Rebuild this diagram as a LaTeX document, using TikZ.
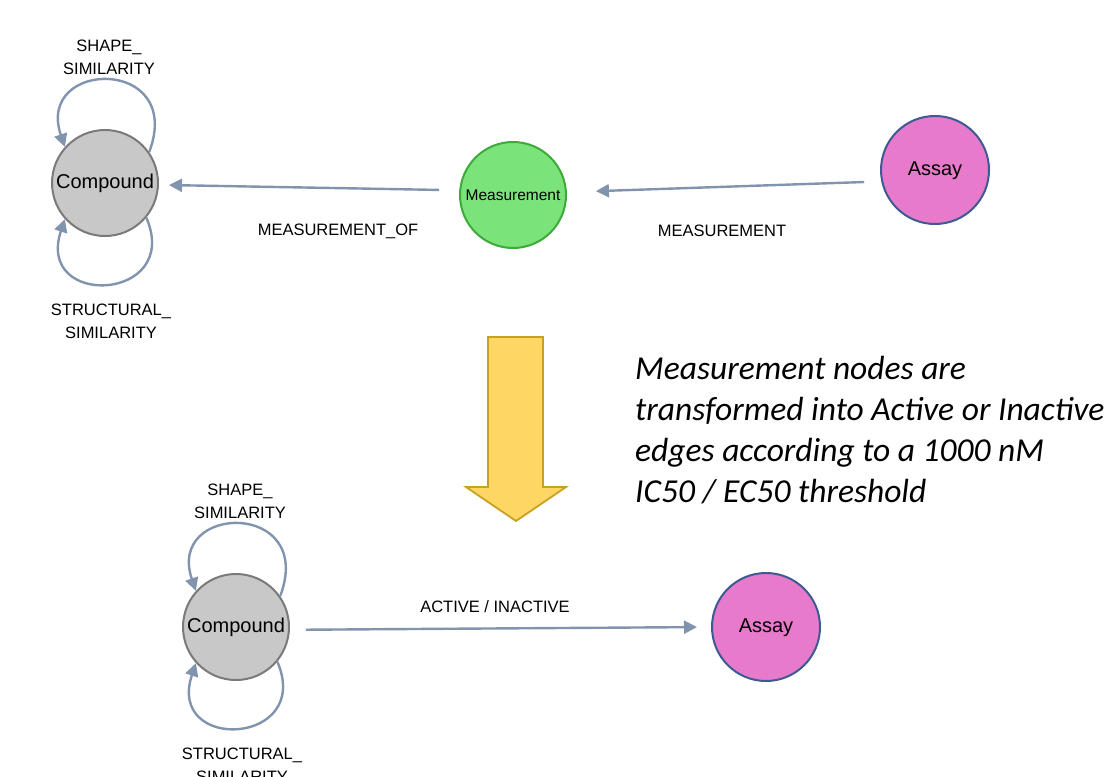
\documentclass[tikz,border=0pt]{standalone}
\usepackage{fontspec}
\setmainfont{Liberation Sans}
\newfontfamily\notefont{Carlito}
\usepackage{xcolor}
\usetikzlibrary{arrows.meta}

\definecolor{cmpdfill}{HTML}{C8C8C8}
\definecolor{cmpdline}{HTML}{7A7A7A}
\definecolor{measfill}{HTML}{7AE37A}
\definecolor{measline}{HTML}{3DAA3A}
\definecolor{assayfill}{HTML}{E87ACB}
\definecolor{assayline}{HTML}{3D5B92}
\definecolor{edgecol}{HTML}{8194AE}
\definecolor{bigfill}{HTML}{FDD664}
\definecolor{bigline}{HTML}{C9A122}

\begin{document}
\begin{tikzpicture}[
    x=1pt, y=1pt,
    vertex/.style={circle, minimum size=106pt, inner sep=0pt, line width=2pt,
                   font=\fontsize{20}{24}\selectfont, text height=14pt, text depth=3pt},
    compound/.style={vertex, fill=cmpdfill, draw=cmpdline},
    measure/.style={vertex, fill=measfill, draw=measline, font=\fontsize{15.5}{18}\selectfont},
    assay/.style={vertex, minimum size=108pt, fill=assayfill, draw=assayline},
    edge/.style={draw=edgecol, line width=2.4pt, -{Triangle[length=13pt, width=13pt]}},
    lbl/.style={font=\fontsize{16.5}{20}\selectfont, align=center, inner sep=0pt}
]
\useasboundingbox (0,0) rectangle (1113,-776);

% before: compound <- measurement <- assay
\node[compound] (cmpd) at (105,-183) {Compound};
\node[measure]  (meas) at (513,-195) {Measurement};
\node[assay]    (assay) at (935,-170) {Assay};

\draw[edge, shorten <=17pt, shorten >=29pt] (assay.192) -- (meas.3);
\draw[edge, shorten <=20pt, shorten >=10pt] (meas.175) -- (cmpd.-2);
\node[lbl] (lmeas) at (722,-231) {MEASUREMENT};
\node[lbl] (lmeasof) at (338,-231) {MEASUREMENT\_OF};

% similarity loops
\draw[edge] (cmpd.35) .. controls +(36,96) and +(-30,88) .. (cmpd.138);
\draw[edge] (cmpd.-40) .. controls +(36,-84) and +(-30,-90) .. (cmpd.-138);
\node[lbl] (lshape) at (109,-57) {SHAPE\_\\[3pt]SIMILARITY};
\node[lbl] (lstruct) at (111,-321) {STRUCTURAL\_\\[3pt]SIMILARITY};

% transformation arrow
\draw[fill=bigfill, draw=bigline, line width=1.8pt, line join=miter]
    (488,-337) -- (543,-337) -- (543,-487) -- (566,-487) -- (516,-521)
    -- (466,-487) -- (488,-487) -- cycle;
\node[anchor=north west, align=left, inner sep=0pt,
      font=\notefont\itshape\fontsize{33.5}{41}\selectfont] (note) at (635,-356)
    {Measurement nodes are\\transformed into Active or Inactive\\
     edges according to a 1000 nM\\IC50 / EC50 threshold};

% after: compound -> assay
\node[compound] (cmpd2) at (236,-627) {Compound};
\node[assay]    (assay2) at (766,-627) {Assay};

\draw[edge, shorten <=16pt, shorten >=14pt] (cmpd2.-3) -- (assay2.180);
\node[lbl] (lact) at (495,-607) {ACTIVE / INACTIVE};

\draw[edge] (cmpd2.35) .. controls +(36,96) and +(-30,88) .. (cmpd2.138);
\draw[edge] (cmpd2.-40) .. controls +(36,-84) and +(-30,-90) .. (cmpd2.-138);
\node[lbl] (lshape2) at (240,-501) {SHAPE\_\\[3pt]SIMILARITY};
\node[lbl] (lstruct2) at (242,-765) {STRUCTURAL\_\\[3pt]SIMILARITY};

\end{tikzpicture}
\end{document}
